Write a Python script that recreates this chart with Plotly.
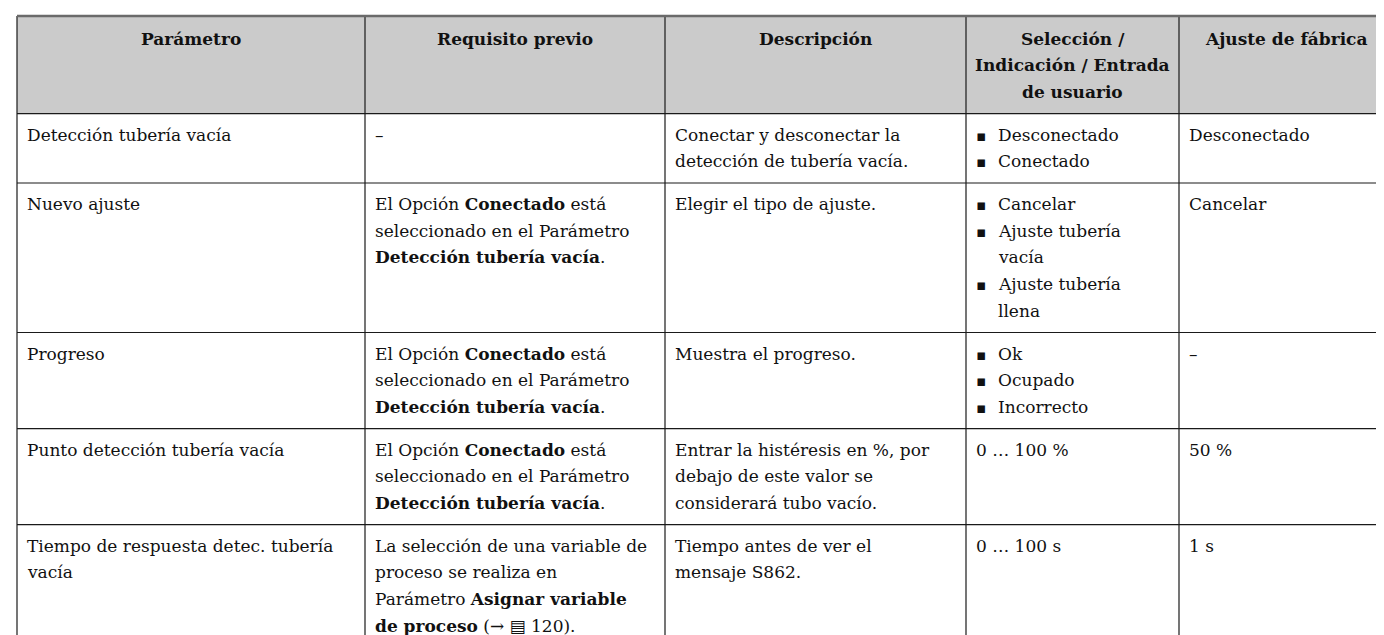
import plotly.graph_objects as go

# ---------------- data (text content, wrapped as in the reference) ----------------
header_lines = [
    ["Parámetro"],
    ["Requisito previo"],
    ["Descripción"],
    ["Selección /", "Indicación / Entrada", "de usuario"],
    ["Ajuste de fábrica"],
]

parametro = [
    ["Detección tubería vacía"],
    ["Nuevo ajuste"],
    ["Progreso"],
    ["Punto detección tubería vacía"],
    ["Tiempo de respuesta detec. tubería", "vacía"],
]

requisito = [
    ["–"],
    ["El Opción <b>Conectado</b> está", "seleccionado en el Parámetro", "<b>Detección tubería vacía</b>."],
    ["El Opción <b>Conectado</b> está", "seleccionado en el Parámetro", "<b>Detección tubería vacía</b>."],
    ["El Opción <b>Conectado</b> está", "seleccionado en el Parámetro", "<b>Detección tubería vacía</b>."],
    ["La selección de una variable de", "proceso se realiza en", "Parámetro <b>Asignar variable</b>",
     "<b>de proceso</b> (→ \u25a4 120)."],
]

descripcion = [
    ["Conectar y desconectar la", "detección de tubería vacía."],
    ["Elegir el tipo de ajuste."],
    ["Muestra el progreso."],
    ["Entrar la histéresis en %, por", "debajo de este valor se", "considerará tubo vacío."],
    ["Tiempo antes de ver el", "mensaje S862."],
]

# each entry: list of items; an item is a list of wrapped lines; bullet flag per row
seleccion = [
    [["Desconectado"], ["Conectado"]],
    [["Cancelar"], ["Ajuste tubería", "vacía"], ["Ajuste tubería", "llena"]],
    [["Ok"], ["Ocupado"], ["Incorrecto"]],
    [["0 … 100 %"]],
    [["0 … 100 s"]],
]
seleccion_bullets = [True, True, True, False, False]

ajuste = [
    ["Desconectado"],
    ["Cancelar"],
    ["–"],
    ["50 %"],
    ["1 s"],
]

# ---------------- style / layout constants ----------------
W, H = 1384, 635
col_edges = [9, 357, 657, 958, 1171, 1384]
table_top = 8
line_h = 26.7
row_pad = 16
first_line_offset = 21
text_pad = 8
bullet_indent = 22
FONT = "DejaVu Serif"
FSIZE = 17
TEXT_COLOR = "#111111"
HEADER_FILL = "#cbcbcb"

shapes = []
annotations = []


def add_text(x, y, text, anchor="left", bold=False, size=FSIZE, family=FONT):
    annotations.append(dict(
        x=x, y=y, xref="x", yref="y", text=("<b>%s</b>" % text) if bold else text,
        showarrow=False, xanchor=anchor, yanchor="middle",
        font=dict(family=family, size=size, color=TEXT_COLOR),
    ))


# header
n_header = max(len(c) for c in header_lines)
header_h = n_header * line_h + row_pad
y0 = table_top + 1.5
header_bottom = y0 + header_h
shapes.append(dict(type="rect", xref="x", yref="y", x0=col_edges[0], x1=col_edges[-1],
                   y0=table_top, y1=header_bottom, fillcolor=HEADER_FILL, line=dict(width=0), layer="below"))
for ci, lines in enumerate(header_lines):
    cx = (col_edges[ci] + col_edges[ci + 1]) / 2
    for li, t in enumerate(lines):
        add_text(cx, y0 + first_line_offset + li * line_h, t, anchor="center", bold=True)

# body rows
row_tops = []
y = header_bottom
n_rows = len(parametro)
for r in range(n_rows):
    sel_lines = sum(len(it) for it in seleccion[r])
    n_lines = max(len(parametro[r]), len(requisito[r]), len(descripcion[r]), sel_lines, len(ajuste[r]))
    row_tops.append(y)
    base = y + first_line_offset
    for ci, cell in enumerate([parametro[r], requisito[r], descripcion[r]]):
        for li, t in enumerate(cell):
            add_text(col_edges[ci] + text_pad, base + li * line_h, t)
    li = 0
    for item in seleccion[r]:
        for k, t in enumerate(item):
            if seleccion_bullets[r]:
                if k == 0:
                    add_text(col_edges[3] + text_pad, base + li * line_h + 1, "\u25aa",
                             size=15, family="DejaVu Sans")
                add_text(col_edges[3] + text_pad + bullet_indent, base + li * line_h, t)
            else:
                add_text(col_edges[3] + text_pad, base + li * line_h, t)
            li += 1
    for li2, t in enumerate(ajuste[r]):
        add_text(col_edges[4] + text_pad, base + li2 * line_h, t)
    y += n_lines * line_h + row_pad
row_tops.append(y)

# horizontal rules
for yy in [header_bottom] + row_tops[1:]:
    shapes.append(dict(type="line", xref="x", yref="y", x0=col_edges[0], x1=col_edges[-1],
                       y0=yy, y1=yy, line=dict(color="#1a1a1a", width=1.2)))
# vertical rules
for xx in col_edges[:-1]:
    shapes.append(dict(type="line", xref="x", yref="y", x0=xx, x1=xx,
                       y0=table_top, y1=max(y, H + 5), line=dict(color="#1a1a1a", width=1.2)))
# thick top rule
shapes.append(dict(type="line", xref="x", yref="y", x0=col_edges[0], x1=col_edges[-1],
                   y0=table_top, y1=table_top, line=dict(color="#6a6a6a", width=2.5)))

fig = go.Figure()
fig.update_layout(
    width=W, height=H,
    margin=dict(l=0, r=0, t=0, b=0),
    paper_bgcolor="white", plot_bgcolor="white",
    xaxis=dict(range=[0, W], visible=False, fixedrange=True),
    yaxis=dict(range=[H, 0], visible=False, fixedrange=True),
    shapes=shapes, annotations=annotations,
    showlegend=False,
)
fig.write_html("out.html")
